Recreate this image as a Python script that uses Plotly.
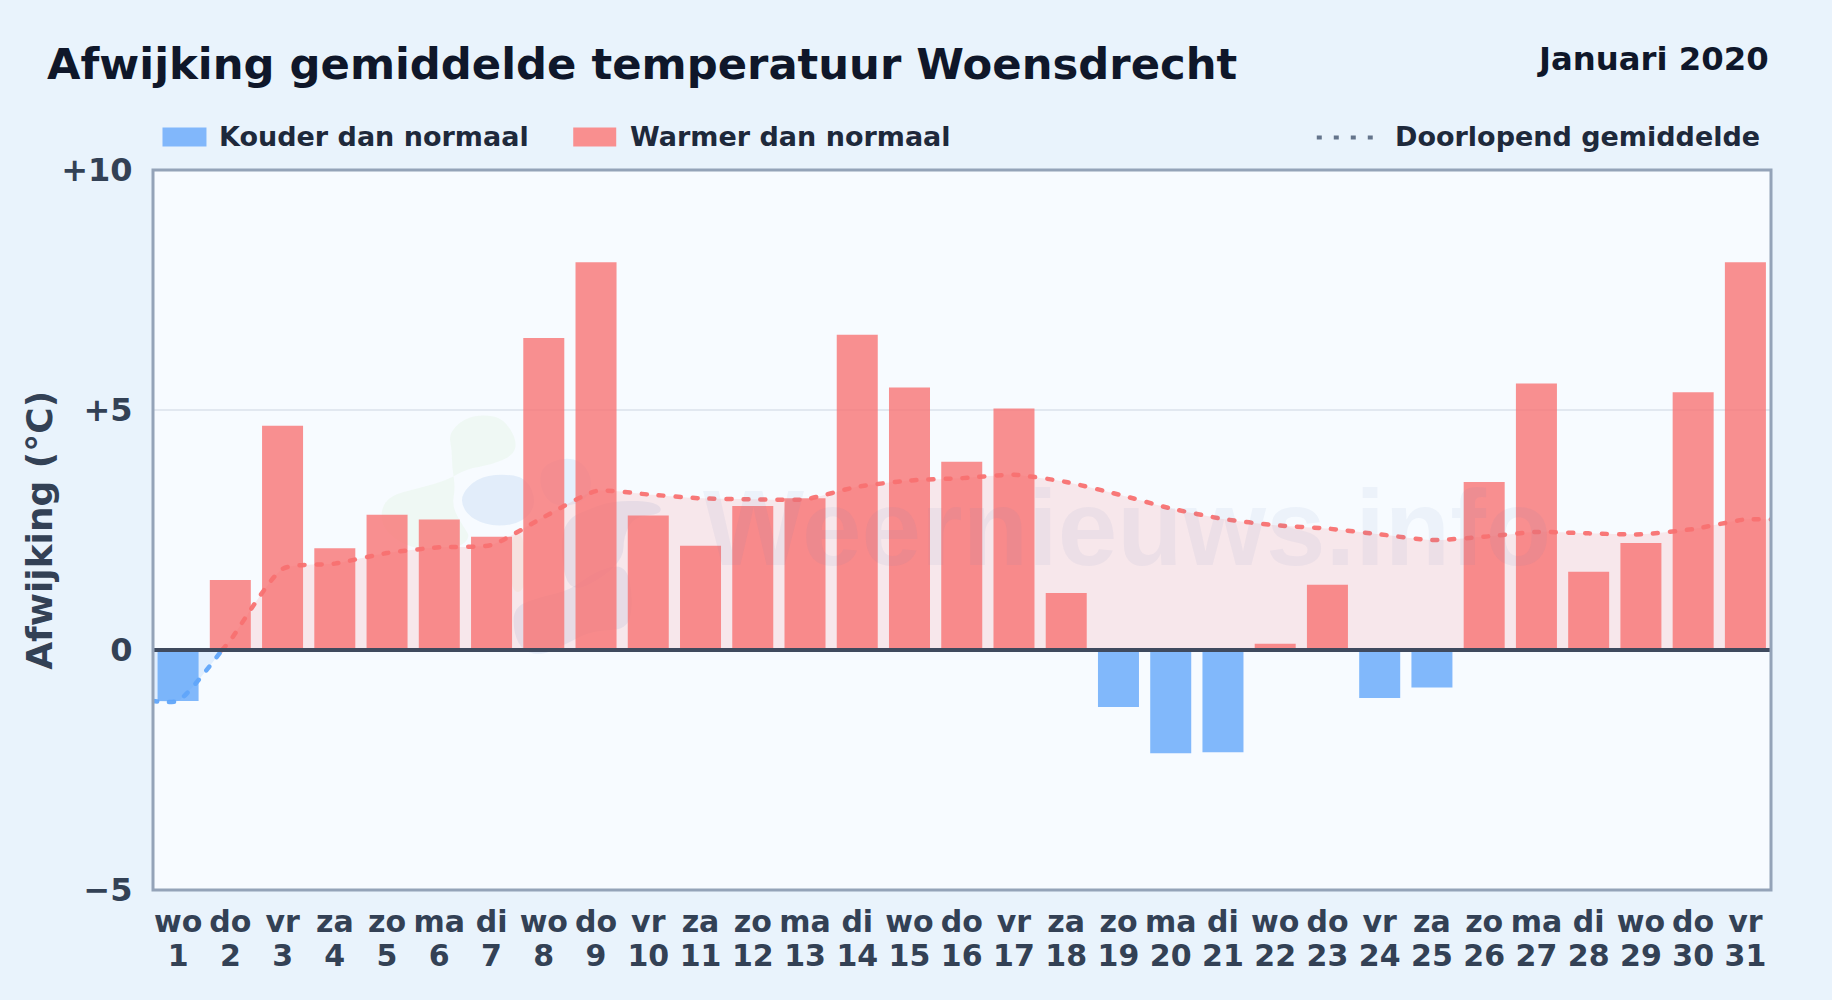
import plotly.graph_objects as go

weekdays = ["wo","do","vr","za","zo","ma","di","wo","do","vr","za","zo","ma","di","wo","do","vr","za","zo","ma","di","wo","do","vr","za","zo","ma","di","wo","do","vr"]
days = list(range(1, 32))
afwijking = [-1.06,1.46,4.67,2.12,2.82,2.72,2.36,6.5,8.08,2.8,2.17,3.0,3.16,6.57,5.47,3.92,5.03,1.19,-1.19,-2.15,-2.13,0.13,1.36,-1.0,-0.78,3.5,5.55,1.63,2.23,5.37,8.08]
gemiddelde = [-1.06,0.2,1.69,1.8,2.02,2.14,2.19,2.77,3.31,3.24,3.16,3.14,3.14,3.4,3.53,3.58,3.65,3.5,3.24,2.95,2.73,2.6,2.53,2.41,2.29,2.36,2.46,2.43,2.41,2.52,2.72]
y_ticks = [-5, 0, 5, 10]
y_ticktext = ["\u22125", "0", "+5", "+10"]

RED = "rgba(248,113,113,0.78)"
BLUE = "rgba(96,165,250,0.78)"
FONT = "DejaVu Sans"
W, H = 1832, 1000
L, R, T, B = 152.5, 1771.5, 169.5, 890.0

def px(x): return (x - L) / (R - L)
def py(y): return (B - y) / (B - T)

x_idx = list(range(31))
bar_colors = [RED if v >= 0 else BLUE for v in afwijking]

# crossing of the running mean through zero, between day 1 and day 2
cross = gemiddelde[0] / (gemiddelde[0] - gemiddelde[1])

LINE_DASH = "5px,12px"
fig = go.Figure()
fig.add_trace(go.Scatter(x=[-0.5, 0, cross], y=[gemiddelde[0], gemiddelde[0], 0], mode="lines",
    line=dict(color="rgba(96,165,250,0.95)", width=4.5, dash=LINE_DASH, shape="spline", smoothing=0.6),
    fill="tozeroy", fillcolor="rgba(96,165,250,0.15)", showlegend=False))
fig.add_trace(go.Scatter(x=[cross] + x_idx[1:] + [30.5], y=[0] + gemiddelde[1:] + [gemiddelde[-1]], mode="lines",
    line=dict(color="rgba(248,113,113,0.95)", width=4.5, dash=LINE_DASH, shape="spline", smoothing=0.6),
    fill="tozeroy", fillcolor="rgba(248,113,113,0.14)", showlegend=False))
fig.add_trace(go.Bar(x=x_idx, y=afwijking, marker=dict(color=bar_colors, line=dict(width=0)), width=0.785, showlegend=False))

# faint logo of the watermark: closed smooth outlines, in crop coordinates of the picture
def blob(points, color):
    pts = [(340 + a / 3, 390 + b / 3) for a, b in points]
    n = len(pts)
    mid = lambda p, q: ((p[0] + q[0]) / 2, (p[1] + q[1]) / 2)
    s = mid(pts[-1], pts[0])
    d = f"M {px(s[0]):.5f},{py(s[1]):.5f}"
    for i in range(n):
        m = mid(pts[i], pts[(i + 1) % n])
        d += f" Q {px(pts[i][0]):.5f},{py(pts[i][1]):.5f} {px(m[0]):.5f},{py(m[1]):.5f}"
    return dict(type="path", xref="paper", yref="paper", path=d + " Z", fillcolor=color, line=dict(width=0), layer="below")

logo = [
    blob([(325,130),(370,85),(430,72),(490,85),(530,150),(520,195),(450,225),(380,235),(320,270),(230,295),(150,315),(120,360),(130,420),(200,470),(280,480),(360,470),(390,440),(370,410),(335,350),(345,290),(335,230),(335,180)], "rgba(170,220,130,0.09)"),
    blob([(365,310),(410,265),(480,250),(560,262),(590,340),(550,395),(470,410),(400,390),(365,350)], "rgba(110,160,220,0.15)"),
    blob([(600,230),(670,200),(730,215),(760,280),(730,340),(640,350),(600,300)], "rgba(110,180,240,0.14)"),
    blob([(672,390),(760,350),(830,330),(950,335),(970,370),(880,380),(850,440),(850,500),(790,560),(690,610),(660,500)], "rgba(110,150,210,0.13)"),
    blob([(520,650),(600,620),(690,600),(770,540),(860,520),(880,640),(860,720),(760,720),(680,760),(610,795),(550,785),(520,730)], "rgba(110,150,210,0.13)"),
    blob([(510,440),(550,420),(560,600),(510,610)], "rgba(250,200,120,0.10)"),
]

shapes = logo + [
    dict(type="line", xref="paper", yref="y", x0=0, x1=1, y0=0, y1=0, line=dict(color="#3F4A5E", width=3.8), layer="above"),
    dict(type="rect", xref="paper", yref="paper", x0=0, x1=1, y0=0, y1=1, line=dict(color="#94A3B8", width=3), layer="above"),
    dict(type="rect", xref="paper", yref="paper", x0=px(162), x1=px(206), y0=py(146), y1=py(127), fillcolor="#81B7FB", line=dict(width=0)),
    dict(type="rect", xref="paper", yref="paper", x0=px(573), x1=px(616), y0=py(146), y1=py(127), fillcolor="#F98F8F", line=dict(width=0)),
    dict(type="line", xref="paper", yref="paper", x0=px(1317), x1=px(1373), y0=py(137), y1=py(137), line=dict(color="#64748B", width=4, dash="5px,12px")),
]

def label(text, x, y, size, color, anchor="left", angle=0):
    return dict(text=text, xref="paper", yref="paper", x=px(x), y=py(y), xanchor=anchor, yanchor="middle", textangle=angle,
                showarrow=False, font=dict(family=FONT, size=size, color=color, weight="bold"))

annotations = [
    label("Afwijking gemiddelde temperatuur Woensdrecht", 44, 63, 43.3, "#0F172A"),
    label("Januari 2020", 1772, 58, 32.3, "#0F172A", "right"),
    label("Kouder dan normaal", 217, 136, 27, "#1E293B"),
    label("Warmer dan normaal", 628, 136, 27, "#1E293B"),
    label("Doorlopend gemiddelde", 1393, 136, 27, "#1E293B"),
    label("Afwijking (\u00b0C)", 39, 530, 36, "#334155", "center", -90),
    dict(text="Weernieuws.info", xref="paper", yref="paper", x=px(1127), y=py(528), xanchor="center", yanchor="middle",
         showarrow=False, font=dict(family="Liberation Sans", size=107, color="rgba(100,130,190,0.07)", weight="bold")),
]

fig.update_layout(
    width=W, height=H, autosize=False,
    margin=dict(l=L, r=W - R, t=T, b=H - B, pad=0),
    paper_bgcolor="#E9F3FC", plot_bgcolor="#F7FBFF",
    font=dict(family=FONT, weight="bold"),
    shapes=shapes, annotations=annotations, bargap=0.2,
    xaxis=dict(range=[-0.48, 30.49], tickmode="array", tickvals=x_idx,
               ticktext=[f"{d}<br>{n}" for d, n in zip(weekdays, days)], ticks="outside", ticklen=5, tickcolor="rgba(0,0,0,0)",
               tickfont=dict(family=FONT, size=30, color="#334155", weight="bold"), showgrid=False, zeroline=False,
               showline=False),
    yaxis=dict(range=[-5, 10], tickmode="array", tickvals=y_ticks, ticktext=y_ticktext, ticks="outside", ticklen=13, tickcolor="rgba(0,0,0,0)",
               tickfont=dict(family=FONT, size=32, color="#334155", weight="bold"),
               showgrid=True, gridcolor="#E2E8F0", gridwidth=2, zeroline=False, showline=False),
)

post = """
document.documentElement.style.background='#E9F3FC';
document.body.style.margin='0';
document.body.style.overflow='hidden';
document.querySelectorAll('.scatterlayer .js-line').forEach(e=>e.style.strokeLinecap='round');
document.querySelectorAll('.xtick tspan.line').forEach(t=>{if(parseFloat(t.getAttribute('dy'))>0){t.setAttribute('dy','1.13em');}});
"""
fig.write_html("out.html", config=dict(displayModeBar=False), post_script=post)
